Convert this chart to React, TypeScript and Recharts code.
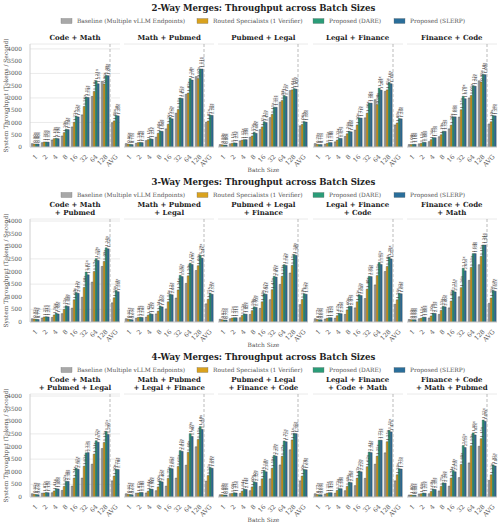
import React from 'react';
import { BarChart, Bar, XAxis, YAxis, CartesianGrid, ReferenceLine, LabelList } from 'recharts';

const batchSizes = ['1', '2', '4', '8', '16', '32', '64', '128', 'AVG'];

const seriesKeys = ['baseline', 'routed', 'dare', 'slerp'];
const seriesNames = [
  'Baseline (Multiple vLLM Endpoints)',
  'Routed Specialists (1 Verifier)',
  'Proposed (DARE)',
  'Proposed (SLERP)',
];
const seriesColors = ['#a8a8a8', '#d9a21e', '#2b9c78', '#2a6e9a'];

const yTicks = [0, 500, 1000, 1500, 2000, 2500, 3000, 3500, 4000];

const rowTitles = [
  '2-Way Merges: Throughput across Batch Sizes',
  '3-Way Merges: Throughput across Batch Sizes',
  '4-Way Merges: Throughput across Batch Sizes',
];

// tokens / second per batch size (last entry = AVG)
const twoWay = [
  {
    title: ['Code + Math'],
    baseline: [137, 177, 287, 450, 819, 1310, 2061, 2676, 990],
    routed: [123, 205, 341, 587, 1010, 1652, 2266, 2567, 1065],
    dare: [123, 205, 355, 723, 1256, 2034, 2703, 2921, 1290],
    slerp: [123, 200, 341, 710, 1229, 2020, 2580, 2908, 1270],
  },
  {
    title: ['Math + Pubmed'],
    baseline: [140, 150, 260, 400, 740, 1380, 2150, 2870, 1010],
    routed: [120, 180, 300, 560, 930, 1530, 2200, 2790, 1060],
    dare: [110, 190, 340, 650, 1200, 2000, 2790, 3180, 1300],
    slerp: [100, 180, 320, 640, 1150, 1980, 2730, 3180, 1290],
  },
  {
    title: ['Pubmed + Legal'],
    baseline: [100, 130, 250, 400, 710, 1200, 1830, 2300, 865],
    routed: [90, 150, 280, 450, 820, 1330, 1900, 2330, 920],
    dare: [80, 170, 300, 600, 1030, 1620, 2100, 2380, 1035],
    slerp: [80, 160, 300, 560, 1000, 1620, 2060, 2360, 1020],
  },
  {
    title: ['Legal + Finance'],
    baseline: [140, 120, 210, 430, 690, 1190, 1930, 2270, 900],
    routed: [110, 150, 280, 540, 900, 1380, 1730, 2330, 980],
    dare: [100, 180, 350, 640, 1190, 1790, 2400, 2630, 1160],
    slerp: [100, 180, 350, 620, 1180, 1790, 2320, 2580, 1150],
  },
  {
    title: ['Finance + Code'],
    baseline: [100, 130, 220, 420, 740, 1220, 2000, 2700, 940],
    routed: [100, 150, 300, 500, 890, 1520, 2100, 2650, 1030],
    dare: [110, 190, 380, 640, 1230, 2070, 2500, 2960, 1280],
    slerp: [110, 190, 380, 640, 1230, 1970, 2480, 2950, 1270],
  },
];

const threeWay = [
  {
    title: ['Code + Math', '+ Pubmed'],
    baseline: [130, 160, 180, 330, 550, 980, 1580, 2200, 760],
    routed: [120, 200, 280, 500, 880, 1370, 2000, 2400, 960],
    dare: [110, 210, 350, 640, 1170, 1980, 2510, 2940, 1250],
    slerp: [100, 200, 320, 620, 1140, 1870, 2440, 2900, 1200],
  },
  {
    title: ['Math + Pubmed', '+ Legal'],
    baseline: [130, 150, 190, 320, 520, 950, 1530, 2040, 720],
    routed: [110, 180, 270, 430, 800, 1270, 1830, 2230, 900],
    dare: [100, 190, 330, 630, 1100, 1850, 2330, 2640, 1140],
    slerp: [90, 180, 310, 600, 1080, 1800, 2280, 2530, 1100],
  },
  {
    title: ['Pubmed + Legal', '+ Finance'],
    baseline: [110, 130, 170, 300, 540, 885, 1490, 1940, 690],
    routed: [90, 160, 260, 450, 800, 1280, 1810, 2240, 890],
    dare: [80, 170, 320, 600, 1120, 1810, 2270, 2670, 1120],
    slerp: [80, 170, 310, 580, 1100, 1780, 2240, 2640, 1100],
  },
  {
    title: ['Legal + Finance', '+ Code'],
    baseline: [130, 120, 150, 300, 560, 930, 1470, 2000, 700],
    routed: [100, 150, 250, 480, 800, 1300, 1840, 2200, 880],
    dare: [90, 170, 340, 620, 1080, 1810, 2360, 2570, 1140],
    slerp: [90, 170, 330, 620, 1050, 1800, 2280, 2500, 1120],
  },
  {
    title: ['Finance + Code', '+ Math'],
    baseline: [100, 130, 160, 300, 560, 1000, 1650, 2270, 740],
    routed: [90, 150, 240, 460, 830, 1360, 2160, 2600, 950],
    dare: [90, 190, 350, 620, 1240, 2130, 2710, 3050, 1250],
    slerp: [90, 190, 340, 600, 1190, 2030, 2710, 3050, 1220],
  },
];

const fourWay = [
  {
    title: ['Code + Math', '+ Pubmed + Legal'],
    baseline: [130, 150, 170, 260, 430, 750, 1300, 1920, 640],
    routed: [110, 160, 240, 420, 750, 1220, 1700, 2160, 830],
    dare: [100, 180, 330, 620, 1140, 1750, 2230, 2600, 1100],
    slerp: [90, 170, 320, 620, 1100, 1760, 2170, 2480, 1090],
  },
  {
    title: ['Math + Pubmed', '+ Legal + Finance'],
    baseline: [130, 150, 160, 250, 430, 750, 1260, 1990, 630],
    routed: [110, 160, 230, 400, 740, 1210, 1770, 2280, 850],
    dare: [100, 180, 320, 630, 1140, 1840, 2510, 2790, 1170],
    slerp: [90, 180, 310, 600, 1120, 1810, 2400, 2680, 1140],
  },
  {
    title: ['Pubmed + Legal', '+ Finance + Code'],
    baseline: [90, 130, 140, 250, 420, 720, 1270, 1870, 640],
    routed: [90, 140, 230, 400, 720, 1140, 1610, 2260, 830],
    dare: [80, 170, 310, 600, 1050, 1650, 2220, 2520, 1090],
    slerp: [80, 160, 300, 580, 1000, 1620, 2190, 2510, 1080],
  },
  {
    title: ['Legal + Finance', '+ Code + Math'],
    baseline: [130, 120, 150, 250, 450, 740, 1300, 1750, 640],
    routed: [100, 150, 260, 420, 750, 1200, 1620, 2190, 880],
    dare: [90, 170, 330, 590, 1030, 1780, 2250, 2640, 1120],
    slerp: [90, 170, 330, 570, 1000, 1760, 2250, 2580, 1110],
  },
  {
    title: ['Finance + Code', '+ Math + Pubmed'],
    baseline: [80, 120, 130, 240, 430, 770, 1350, 2010, 660],
    routed: [80, 130, 220, 420, 750, 1290, 2030, 2310, 880],
    dare: [70, 160, 310, 560, 1050, 2040, 2540, 3050, 1270],
    slerp: [70, 150, 300, 550, 1000, 1960, 2460, 3000, 1230],
  },
];

const rows = [twoWay, threeWay, fourWay];

// layout
const FONT = '"DejaVu Serif", serif';
const PLOT_W = 90;
const PLOT_H = 103;
const COL_STEP = 94.2;
const FIRST_LEFT = 30;
const Y_AXIS_W = 26;
const TOP_PAD = 4;
const X_AXIS_H = 20;
const rowTops = [44, 219, 394];
const rowYMax = [4200, 4080, 4080];

type Panel = {
  title: string[];
  baseline: number[];
  routed: number[];
  dare: number[];
  slerp: number[];
};

const ratioLabel = (base: number[]) => (props: any) => {
  const { x, y, width, value, index } = props;
  if (value == null) return null;
  const cx = Number(x) + Number(width) / 2;
  const cy = Number(y) - 1.2;
  return (
    <text
      x={cx}
      y={cy}
      transform={`rotate(-90 ${cx} ${cy})`}
      fontSize={3.8}
      fontFamily={FONT}
      fill="#333"
      textAnchor="start"
      dominantBaseline="central"
    >
      {(Number(value) / base[index]).toFixed(2)}x
    </text>
  );
};

function PanelChart({ panel, col, row }: { panel: Panel; col: number; row: number }) {
  const data = batchSizes.map((b, i) => ({
    batch: b,
    baseline: panel.baseline[i],
    routed: panel.routed[i],
    dare: panel.dare[i],
    slerp: panel.slerp[i],
  }));
  const yW = col === 0 ? Y_AXIS_W : 0;
  const plotLeft = FIRST_LEFT + col * COL_STEP;
  return (
    <div
      style={{
        position: 'absolute',
        left: plotLeft - yW,
        top: rowTops[row] - TOP_PAD,
      }}
    >
      <BarChart
        width={yW + PLOT_W + 4}
        height={TOP_PAD + PLOT_H + X_AXIS_H}
        data={data}
        margin={{ top: TOP_PAD, right: 4, left: 0, bottom: 0 }}
        barCategoryGap="12%"
        barGap={0}
      >
        <CartesianGrid vertical={false} stroke="#e4e4e4" strokeWidth={0.8} />
        <XAxis
          dataKey="batch"
          interval={0}
          angle={-45}
          textAnchor="end"
          height={X_AXIS_H}
          tickLine={false}
          axisLine={{ stroke: '#d0d0d0' }}
          tick={{ fontSize: 6.3, fill: '#555', fontFamily: FONT }}
          tickMargin={1}
        />
        <YAxis
          width={yW}
          domain={[0, rowYMax[row]]}
          ticks={yTicks}
          allowDataOverflow
          tickLine={false}
          axisLine={{ stroke: '#d0d0d0' }}
          tick={col === 0 ? { fontSize: 5.8, fill: '#555', fontFamily: FONT } : false}
          tickMargin={2}
        />
        <ReferenceLine
          x="AVG"
          position="start"
          stroke="#aaa"
          strokeDasharray="3 2"
          strokeWidth={0.8}
        />
        {seriesKeys.map((k, si) => (
          <Bar
            key={k}
            dataKey={k}
            fill={seriesColors[si]}
            stroke="#2b2b2b"
            strokeWidth={0.35}
            isAnimationActive={false}
          >
            {si > 0 && <LabelList dataKey={k} content={ratioLabel(panel.baseline)} />}
          </Bar>
        ))}
      </BarChart>
    </div>
  );
}

const legendPatchX = [61, 197, 313, 394];

function Overlay() {
  const titleY = [8, 182, 357];
  const legendY = [21, 195, 370];
  const panelTitleY = [37, 204, 379];
  const centerX = FIRST_LEFT + (4 * COL_STEP + PLOT_W) / 2;
  return (
    <svg
      width={500}
      height={525}
      style={{ position: 'absolute', left: 0, top: 0, pointerEvents: 'none' }}
      fontFamily={FONT}
    >
      {rows.map((panels, r) => (
        <g key={r}>
          <text
            x={centerX}
            y={titleY[r]}
            textAnchor="middle"
            dominantBaseline="central"
            fontSize={8.6}
            fontWeight="bold"
            fill="#222"
          >
            {rowTitles[r]}
          </text>
          {seriesNames.map((n, si) => (
            <g key={n}>
              <rect
                x={legendPatchX[si]}
                y={legendY[r] - 2.5}
                width={11}
                height={5}
                fill={seriesColors[si]}
                stroke="#666"
                strokeWidth={0.3}
              />
              <text
                x={legendPatchX[si] + 16}
                y={legendY[r]}
                dominantBaseline="central"
                fontSize={5.9}
                fill="#555"
              >
                {n}
              </text>
            </g>
          ))}
          {panels.map((p, c) =>
            p.title.map((line, li) => (
              <text
                key={`${c}-${li}`}
                x={FIRST_LEFT + c * COL_STEP + PLOT_W / 2}
                y={panelTitleY[r] + li * 8}
                textAnchor="middle"
                dominantBaseline="central"
                fontSize={7}
                fontWeight="bold"
                fill="#222"
              >
                {line}
              </text>
            ))
          )}
          <text
            x={6}
            y={rowTops[r] + PLOT_H / 2}
            transform={`rotate(-90 6 ${rowTops[r] + PLOT_H / 2})`}
            textAnchor="middle"
            dominantBaseline="central"
            fontSize={5.9}
            fill="#555"
          >
            System Throughput (Tokens / Second)
          </text>
          <text
            x={centerX}
            y={rowTops[r] + PLOT_H + 23}
            textAnchor="middle"
            dominantBaseline="central"
            fontSize={5.9}
            fill="#555"
          >
            Batch Size
          </text>
        </g>
      ))}
    </svg>
  );
}

export default function App() {
  return (
    <div
      style={{
        position: 'absolute',
        left: 0,
        top: 0,
        width: 500,
        height: 525,
        background: '#fff',
        overflow: 'hidden',
        fontFamily: FONT,
      }}
    >
      {rows.map((panels, r) =>
        panels.map((p, c) => <PanelChart key={`${r}-${c}`} panel={p} col={c} row={r} />)
      )}
      <Overlay />
    </div>
  );
}
